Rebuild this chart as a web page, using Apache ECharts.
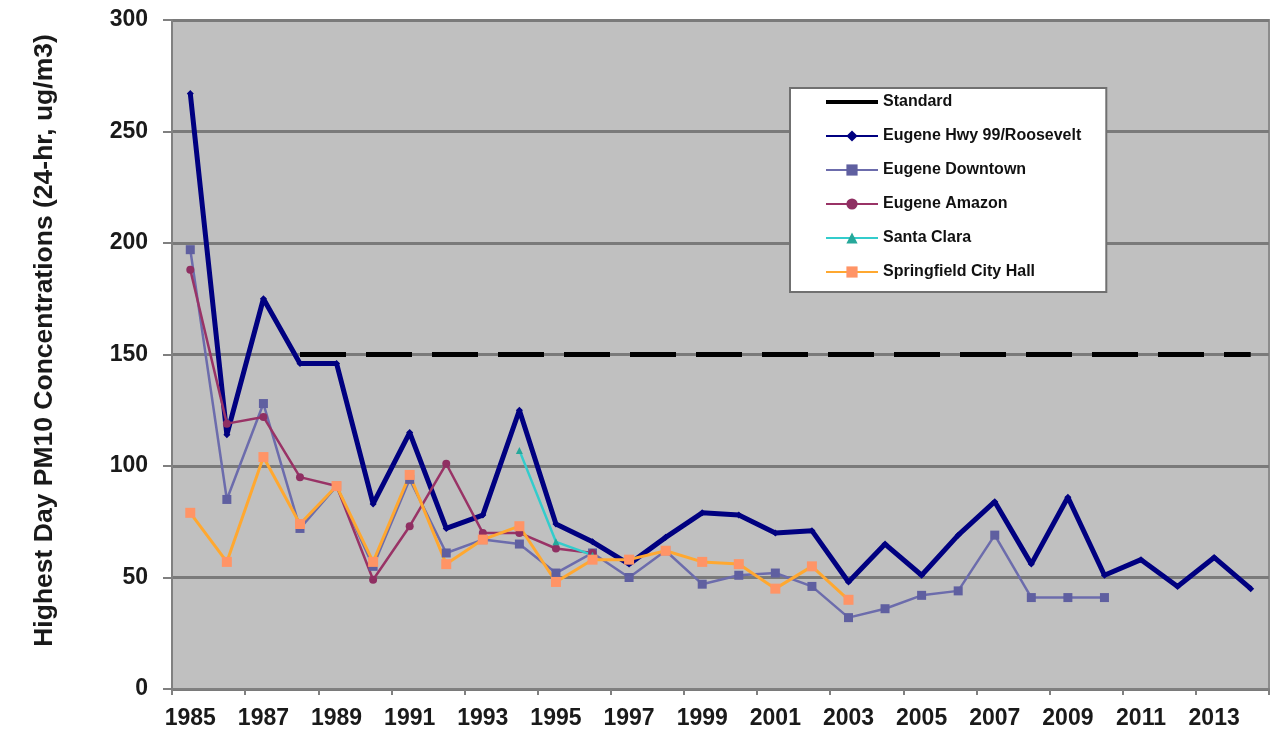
<!DOCTYPE html>
<html>
<head>
<meta charset="utf-8">
<script src="https://cdn.jsdelivr.net/npm/echarts@6/dist/echarts.min.js"></script>
<style>
  html, body { margin: 0; padding: 0; background: #fff; }
  #chart { width: 1278px; height: 734px; }
</style>
</head>
<body>
<div id="chart"></div>
<script>
// 年份
const years = ['1985', '1986', '1987', '1988', '1989', '1990', '1991', '1992', '1993', '1994',
  '1995', '1996', '1997', '1998', '1999', '2000', '2001', '2002', '2003', '2004',
  '2005', '2006', '2007', '2008', '2009', '2010', '2011', '2012', '2013', '2014']

const standard = [null, null, null, 150, 150, 150, 150, 150, 150, 150,
  150, 150, 150, 150, 150, 150, 150, 150, 150, 150,
  150, 150, 150, 150, 150, 150, 150, 150, 150, 150]

const hwy99 = [267, 114, 175, 146, 146, 83, 115, 72, 78, 125,
  74, 66, 56, 68, 79, 78, 70, 71, 48, 65,
  51, 69, 84, 56, 86, 51, 58, 46, 59, 45]

const downtown = [197, 85, 128, 72, 91, 55, 94, 61, 67, 65,
  52, 61, 50, 62, 47, 51, 52, 46, 32, 36,
  42, 44, 69, 41, 41, 41, null, null, null, null]

const amazon = [188, 119, 122, 95, 91, 49, 73, 101, 70, 70,
  63, 61, null, null, null, null, null, null, null, null,
  null, null, null, null, null, null, null, null, null, null]

const santaClara = [null, null, null, null, null, null, null, null, null, 107,
  66, 60, null, null, null, null, null, null, null, null,
  null, null, null, null, null, null, null, null, null, null]

const springfield = [79, 57, 104, 74, 91, 57, 96, 56, 67, 73,
  48, 58, 58, 62, 57, 56, 45, 55, 40, null,
  null, null, null, null, null, null, null, null, null, null]

const yTicks = [0, 50, 100, 150, 200, 250, 300]

const chart = echarts.init(document.getElementById('chart'))

const font = 'Liberation Sans, Arial, sans-serif'

chart.setOption({
  animation: false,
  backgroundColor: '#ffffff',
  grid: {
    left: 172,
    right: 9,
    top: 20,
    bottom: 45,
    show: true,
    backgroundColor: '#c0c0c0',
    borderColor: '#8c8c8c',
    borderWidth: 2
  },
  legend: {
    orient: 'vertical',
    left: 790,
    top: 88,
    backgroundColor: '#ffffff',
    borderColor: '#707070',
    borderWidth: 2,
    padding: [6, 25, 12, 35],
    itemWidth: 52,
    itemHeight: 14,
    itemGap: 18,
    symbolKeepAspect: true,
    textStyle: {
      fontFamily: font,
      fontWeight: 'bold',
      fontSize: 16,
      color: '#111'
    },
    data: [
      // 图例里的标准线画成实线
      { name: 'Standard', icon: 'path://M0,0L52,0L52,4L0,4Z', itemStyle: { color: '#000' } },
      'Eugene Hwy 99/Roosevelt',
      'Eugene Downtown',
      'Eugene Amazon',
      'Santa Clara',
      'Springfield City Hall'
    ]
  },
  xAxis: {
    type: 'category',
    data: years,
    boundaryGap: true,
    axisLine: { lineStyle: { color: '#808080', width: 2 } },
    axisTick: { show: true, length: 6, lineStyle: { color: '#808080', width: 2 } },
    axisLabel: {
      interval: 1,
      margin: 18,
      fontFamily: font,
      fontWeight: 'bold',
      fontSize: 23,
      color: '#1a1a1a'
    },
    splitLine: { show: false }
  },
  yAxis: {
    type: 'value',
    min: yTicks[0],
    max: yTicks[yTicks.length - 1],
    interval: 50,
    name: 'Highest Day PM10 Concentrations (24-hr, ug/m3)',
    nameLocation: 'middle',
    nameGap: 114,
    nameTextStyle: {
      fontFamily: font,
      fontWeight: 'bold',
      fontSize: 26.5,
      color: '#1a1a1a',
      padding: [0, 0, 0, 28]
    },
    axisLine: { show: true, lineStyle: { color: '#808080', width: 2 } },
    axisTick: { show: true, length: 9, lineStyle: { color: '#808080', width: 2 } },
    axisLabel: {
      margin: 24,
      fontFamily: font,
      fontWeight: 'bold',
      fontSize: 23,
      color: '#1a1a1a'
    },
    splitLine: { show: true, lineStyle: { color: '#7a7a7a', width: 3 } }
  },
  series: [
    {
      name: 'Standard',
      type: 'line',
      data: standard,
      symbol: 'none',
      itemStyle: { color: '#000' },
      lineStyle: { color: '#000', width: 5, type: [46, 20] }
    },
    {
      name: 'Eugene Hwy 99/Roosevelt',
      type: 'line',
      data: hwy99,
      symbol: 'diamond',
      symbolSize: 7,
      showAllSymbol: true,
      itemStyle: { color: '#000080' },
      lineStyle: { color: '#000080', width: 5 }
    },
    {
      name: 'Eugene Downtown',
      type: 'line',
      data: downtown,
      symbol: 'rect',
      symbolSize: 9,
      showAllSymbol: true,
      itemStyle: { color: '#5f5fa0' },
      lineStyle: { color: '#6c6cac', width: 2.5 }
    },
    {
      name: 'Eugene Amazon',
      type: 'line',
      data: amazon,
      symbol: 'circle',
      symbolSize: 8,
      showAllSymbol: true,
      itemStyle: { color: '#8f2f62' },
      lineStyle: { color: '#993366', width: 2.5 }
    },
    {
      name: 'Santa Clara',
      type: 'line',
      data: santaClara,
      symbol: 'triangle',
      symbolSize: 7,
      showAllSymbol: true,
      itemStyle: { color: '#26a89a' },
      lineStyle: { color: '#33cccc', width: 2.5 }
    },
    {
      name: 'Springfield City Hall',
      type: 'line',
      data: springfield,
      symbol: 'rect',
      symbolSize: 10,
      showAllSymbol: true,
      itemStyle: { color: '#ff9466' },
      lineStyle: { color: '#ffa830', width: 3 }
    }
  ]
})
</script>
</body>
</html>
